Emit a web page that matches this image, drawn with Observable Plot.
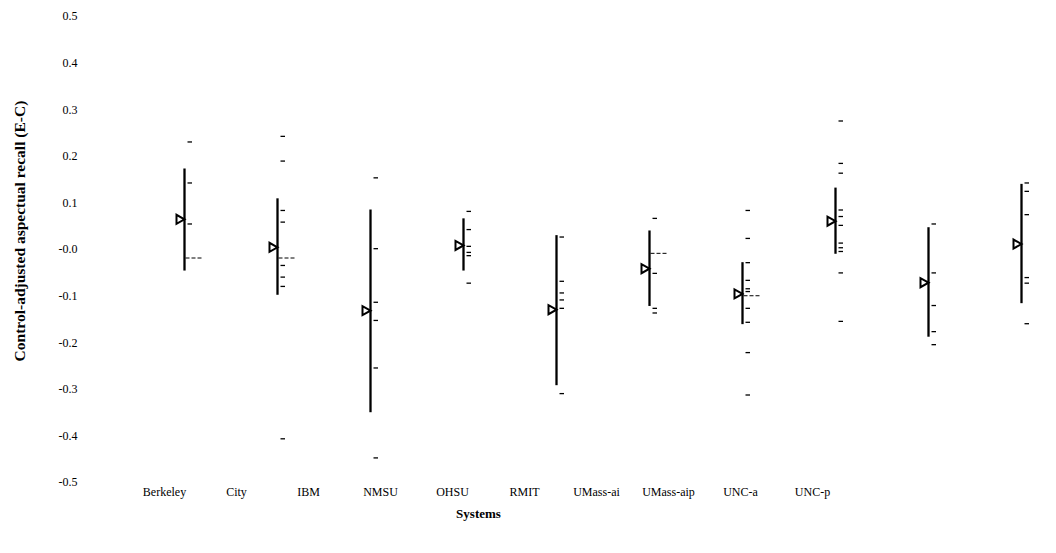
<!DOCTYPE html>
<html><head><meta charset="utf-8">
<script src="https://cdn.jsdelivr.net/npm/d3@7"></script>
<script src="https://cdn.jsdelivr.net/npm/@observablehq/plot@0.6"></script>
<style>
body{margin:0;background:#fff}
#chart{position:relative;width:1056px;height:553px;background:#fff}
#chart svg{display:block}
#labels{position:absolute;left:0;top:480px}
</style>
</head><body><div id="chart"><div id="main"></div><div id="labels"></div></div>
<script>
const systems = ["Berkeley","City","IBM","NMSU","OHSU","RMIT","UMass-ai","UMass-aip","UNC-a","UNC-p"];
const rangeLow  = [-0.028, -0.080, -0.332, -0.028, -0.274, -0.104, -0.143, 0.008, -0.170, -0.098];
const rangeHigh = [0.191, 0.127, 0.103, 0.084, 0.048, 0.058, -0.010, 0.150, 0.065, 0.158];
const means     = [0.083, 0.023, -0.113, 0.027, -0.111, -0.023, -0.077, 0.079, -0.053, 0.030];
const refSystems = ["Berkeley","City","RMIT","UMass-ai"];
const refValues  = [0.000, 0.000, 0.010, -0.081];
const topicValues = {
  "Berkeley": [0.249, 0.161, 0.073],
  "City": [0.261, 0.208, 0.102, 0.077, -0.016, -0.041, -0.061, -0.388],
  "IBM": [0.172, 0.020, -0.095, -0.134, -0.236, -0.429],
  "NMSU": [0.100, 0.061, 0.025, 0.012, 0.005, -0.054],
  "OHSU": [0.045, -0.050, -0.075, -0.090, -0.108, -0.291],
  "RMIT": [0.085, -0.033, -0.108, -0.118],
  "UMass-ai": [0.102, 0.042, -0.010, -0.048, -0.066, -0.072, -0.108, -0.138, -0.203, -0.294],
  "UMass-aip": [0.294, 0.203, 0.182, 0.103, 0.089, 0.070, 0.032, 0.022, 0.014, -0.032, -0.136],
  "UNC-a": [0.073, -0.032, -0.102, -0.158, -0.186],
  "UNC-p": [0.161, 0.143, 0.093, -0.042, -0.054, -0.141]
};
const yTickValues = [0.5, 0.4, 0.3, 0.2, 0.1, 0, -0.1, -0.2, -0.3, -0.4, -0.5];
const yTickLabels = ["0.5","0.4","0.3","0.2","0.1","-0.0","-0.1","-0.2","-0.3","-0.4","-0.5"];
const yTitle = "Control-adjusted aspectual recall (E-C)";
const xTitle = "Systems";

const rangeRows = systems.map((s, i) => ({system: s, lo: rangeLow[i], hi: rangeHigh[i]}));
const meanRows = systems.map((s, i) => ({system: s, value: means[i]}));
const refRows = refSystems.map((s, i) => ({system: s, value: refValues[i]}));
const tickRows = systems.flatMap(s => topicValues[s].map(v => ({system: s, value: v})));

// marker shapes (style only)
const triRight = {draw(ctx) { ctx.moveTo(0, 0); ctx.lineTo(-8, -4.5); ctx.lineTo(-8, 4.5); ctx.closePath(); }};
const shortDash = {draw(ctx) { ctx.moveTo(3, 0); ctx.lineTo(7.5, 0); }};
const longDash = {draw(ctx) { ctx.moveTo(1, 0); ctx.lineTo(19, 0); }};
const font = "'Liberation Serif', 'Times New Roman', Times, serif";

const main = Plot.plot({
  width: 1056, height: 553,
  marginTop: 24.5, marginBottom: 62.5, marginLeft: 80, marginRight: 20,
  x: {type: "point", domain: systems, range: [181, 1023], padding: 0, axis: null},
  y: {domain: [-0.5, 0.5], axis: null},
  style: {fontFamily: font, fontSize: "12px", background: "white", color: "black"},
  marks: [
    Plot.axisY(yTickValues, {tickSize: 0, tickPadding: 3, dy: -8.5, label: null,
      tickFormat: d => yTickLabels[yTickValues.indexOf(d)]}),
    Plot.text([yTitle], {text: d => d, frameAnchor: "left", textAnchor: "middle", lineAnchor: "middle", rotate: -90, dx: -60, dy: -27, fontWeight: "bold", fontSize: 15.5}),
    Plot.ruleX(rangeRows, {x: "system", y1: "lo", y2: "hi", stroke: "black", strokeWidth: 2.3}),
    Plot.dot(tickRows, {x: "system", y: "value", symbol: shortDash, fill: "none", stroke: "black", strokeWidth: 1.3}),
    Plot.dot(refRows, {x: "system", y: "value", symbol: longDash, fill: "none", stroke: "black", strokeWidth: 1, strokeDasharray: "4,2"}),
    Plot.dot(meanRows, {x: "system", y: "value", symbol: triRight, fill: "white", stroke: "black", strokeWidth: 2})
  ]
});
document.getElementById("main").append(main);

const labels = Plot.plot({
  width: 1056, height: 45,
  marginTop: 12, marginBottom: 12, marginLeft: 0, marginRight: 100,
  x: {type: "point", domain: systems, range: [160, 815], padding: 0, axis: null},
  style: {fontFamily: font, fontSize: "12px", background: "transparent", color: "black"},
  marks: [
    Plot.text(systems, {x: d => d, text: d => d, frameAnchor: "top", lineAnchor: "middle"}),
    Plot.text([xTitle], {text: d => d, frameAnchor: "bottom", lineAnchor: "middle", fontWeight: "bold", fontSize: 13})
  ]
});
document.getElementById("labels").append(labels);
</script></body></html>
